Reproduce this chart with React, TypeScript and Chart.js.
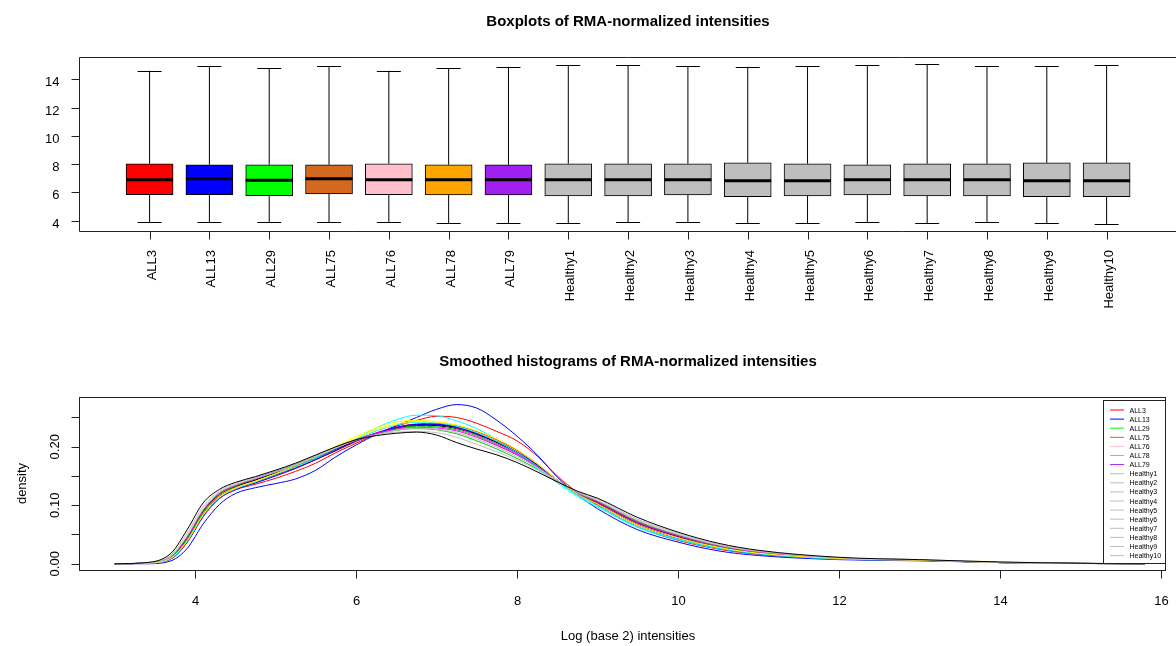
import React, { useEffect, useRef } from "react";
import { Chart, registerables } from "chart.js";
Chart.register(...registerables);

const FONT = '"Liberation Sans", Arial, sans-serif';

// ---------- Boxplot data ----------
const sampleNames = ["ALL3", "ALL13", "ALL29", "ALL75", "ALL76", "ALL78", "ALL79", "Healthy1", "Healthy2", "Healthy3", "Healthy4", "Healthy5", "Healthy6", "Healthy7", "Healthy8", "Healthy9", "Healthy10"];
const boxFill = ["#FF0000", "#0000FF", "#00FF00", "#D2691E", "#FFC0CB", "#FFA500", "#A020F0", "#BEBEBE", "#BEBEBE", "#BEBEBE", "#BEBEBE", "#BEBEBE", "#BEBEBE", "#BEBEBE", "#BEBEBE", "#BEBEBE", "#BEBEBE"];
const whiskerLow = [3.89, 3.89, 3.89, 3.89, 3.89, 3.82, 3.82, 3.82, 3.89, 3.89, 3.82, 3.82, 3.89, 3.82, 3.89, 3.82, 3.75];
const q1 = [5.84, 5.84, 5.77, 5.89, 5.84, 5.82, 5.82, 5.75, 5.75, 5.82, 5.70, 5.75, 5.82, 5.75, 5.75, 5.70, 5.70];
const medians = [6.90, 6.97, 6.86, 6.97, 6.90, 6.90, 6.90, 6.90, 6.90, 6.90, 6.83, 6.83, 6.90, 6.90, 6.90, 6.83, 6.83];
const q3 = [8.03, 7.96, 7.96, 7.96, 8.03, 7.96, 7.96, 8.03, 8.03, 8.03, 8.10, 8.03, 7.96, 8.03, 8.03, 8.10, 8.10];
const whiskerHigh = [14.61, 14.94, 14.80, 14.94, 14.61, 14.80, 14.89, 14.99, 14.99, 14.94, 14.89, 14.94, 14.99, 15.06, 14.94, 14.94, 14.99];
const boxYTicks = [4, 6, 8, 10, 12, 14];

// ---------- Density data ----------
const densityX = [3.0, 3.4, 3.7, 3.9, 4.1, 4.3, 4.5, 4.75, 5.0, 5.25, 5.5, 5.75, 6.0, 6.25, 6.5, 6.75, 7.0, 7.25, 7.5, 7.75, 8.0, 8.25, 8.5, 8.75, 9.0, 9.5, 10.0, 10.5, 11.0, 12.0, 13.0, 14.0, 15.0, 15.8];
const dALL3 = [0, 0.001, 0.012, 0.044, 0.090, 0.119, 0.133, 0.144, 0.156, 0.168, 0.182, 0.197, 0.211, 0.223, 0.232, 0.237, 0.236, 0.231, 0.221, 0.207, 0.190, 0.169, 0.143, 0.121, 0.106, 0.071, 0.048, 0.031, 0.020, 0.009, 0.006, 0.002, 0.0005, 0];
const dALL13 = [0, 0.001, 0.008, 0.036, 0.080, 0.111, 0.126, 0.136, 0.146, 0.158, 0.172, 0.190, 0.206, 0.222, 0.235, 0.245, 0.252, 0.250, 0.240, 0.226, 0.210, 0.184, 0.150, 0.122, 0.100, 0.063, 0.040, 0.025, 0.016, 0.008, 0.006, 0.002, 0.0005, 0];
const dALL29 = [0, 0.001, 0.012, 0.045, 0.091, 0.120, 0.134, 0.146, 0.158, 0.170, 0.184, 0.199, 0.212, 0.222, 0.228, 0.231, 0.229, 0.222, 0.210, 0.196, 0.180, 0.162, 0.141, 0.122, 0.107, 0.073, 0.049, 0.031, 0.020, 0.009, 0.006, 0.002, 0.0005, 0];
const dALL75 = [0, 0, 0.005, 0.026, 0.068, 0.101, 0.120, 0.130, 0.137, 0.145, 0.160, 0.183, 0.203, 0.221, 0.236, 0.250, 0.264, 0.272, 0.266, 0.245, 0.218, 0.186, 0.148, 0.118, 0.094, 0.058, 0.037, 0.022, 0.014, 0.007, 0.005, 0.002, 0.0004, 0];
const dALL76 = [0, 0.001, 0.009, 0.038, 0.082, 0.112, 0.128, 0.139, 0.151, 0.164, 0.179, 0.196, 0.214, 0.232, 0.246, 0.254, 0.253, 0.244, 0.231, 0.212, 0.190, 0.163, 0.138, 0.115, 0.097, 0.062, 0.041, 0.026, 0.017, 0.008, 0.006, 0.002, 0.0005, 0];
const dALL78 = [0, 0.001, 0.010, 0.040, 0.086, 0.116, 0.131, 0.143, 0.155, 0.167, 0.181, 0.196, 0.211, 0.224, 0.233, 0.238, 0.238, 0.232, 0.220, 0.205, 0.188, 0.167, 0.142, 0.120, 0.104, 0.069, 0.046, 0.029, 0.019, 0.009, 0.006, 0.002, 0.0005, 0];
const dALL79 = [0, 0.001, 0.010, 0.040, 0.086, 0.116, 0.130, 0.142, 0.155, 0.169, 0.184, 0.201, 0.218, 0.232, 0.242, 0.245, 0.243, 0.237, 0.226, 0.211, 0.193, 0.170, 0.143, 0.119, 0.102, 0.066, 0.044, 0.028, 0.018, 0.009, 0.006, 0.002, 0.0005, 0];
const dHealthy1 = [0, 0.002, 0.015, 0.052, 0.098, 0.124, 0.137, 0.148, 0.159, 0.171, 0.185, 0.200, 0.213, 0.221, 0.225, 0.226, 0.224, 0.216, 0.204, 0.191, 0.177, 0.160, 0.141, 0.123, 0.110, 0.076, 0.052, 0.033, 0.022, 0.010, 0.007, 0.003, 0.0007, 0];
const dHealthy2 = [0, 0.001, 0.011, 0.043, 0.089, 0.118, 0.132, 0.143, 0.155, 0.167, 0.181, 0.196, 0.210, 0.222, 0.231, 0.236, 0.237, 0.233, 0.222, 0.208, 0.190, 0.168, 0.142, 0.120, 0.105, 0.070, 0.047, 0.030, 0.019, 0.009, 0.006, 0.002, 0.0005, 0];
const dHealthy3 = [0, 0.001, 0.010, 0.040, 0.085, 0.115, 0.129, 0.140, 0.152, 0.164, 0.178, 0.193, 0.209, 0.223, 0.233, 0.239, 0.240, 0.236, 0.226, 0.212, 0.194, 0.171, 0.143, 0.120, 0.103, 0.067, 0.044, 0.028, 0.018, 0.008, 0.006, 0.002, 0.0005, 0];
const dHealthy4 = [0, 0.001, 0.011, 0.042, 0.088, 0.118, 0.133, 0.145, 0.157, 0.169, 0.183, 0.198, 0.212, 0.223, 0.231, 0.235, 0.234, 0.229, 0.218, 0.203, 0.186, 0.166, 0.142, 0.121, 0.106, 0.071, 0.048, 0.030, 0.020, 0.009, 0.006, 0.002, 0.0005, 0];
const dHealthy5 = [0, 0.001, 0.009, 0.037, 0.082, 0.112, 0.127, 0.138, 0.150, 0.163, 0.178, 0.194, 0.210, 0.223, 0.233, 0.238, 0.238, 0.234, 0.223, 0.209, 0.191, 0.169, 0.142, 0.119, 0.102, 0.066, 0.043, 0.027, 0.017, 0.008, 0.006, 0.002, 0.0005, 0];
const dHealthy6 = [0, 0.001, 0.009, 0.038, 0.083, 0.113, 0.128, 0.140, 0.153, 0.166, 0.181, 0.197, 0.213, 0.227, 0.237, 0.242, 0.241, 0.235, 0.224, 0.209, 0.190, 0.167, 0.141, 0.117, 0.099, 0.063, 0.042, 0.027, 0.017, 0.008, 0.006, 0.002, 0.0005, 0];
const dHealthy7 = [0, 0.001, 0.012, 0.045, 0.091, 0.120, 0.134, 0.145, 0.157, 0.169, 0.183, 0.198, 0.212, 0.223, 0.230, 0.233, 0.232, 0.227, 0.216, 0.202, 0.186, 0.166, 0.142, 0.121, 0.106, 0.071, 0.048, 0.031, 0.020, 0.009, 0.006, 0.002, 0.0005, 0];
const dHealthy8 = [0, 0.001, 0.010, 0.039, 0.084, 0.114, 0.129, 0.141, 0.154, 0.168, 0.183, 0.199, 0.215, 0.229, 0.239, 0.243, 0.242, 0.237, 0.227, 0.213, 0.195, 0.171, 0.143, 0.119, 0.102, 0.066, 0.044, 0.028, 0.018, 0.009, 0.006, 0.002, 0.0005, 0];
const dHealthy9 = [0, 0.001, 0.013, 0.048, 0.094, 0.122, 0.135, 0.146, 0.157, 0.169, 0.183, 0.198, 0.211, 0.221, 0.228, 0.232, 0.230, 0.224, 0.213, 0.199, 0.183, 0.164, 0.142, 0.122, 0.108, 0.074, 0.050, 0.032, 0.021, 0.010, 0.007, 0.002, 0.0006, 0];
const dHealthy10 = [0, 0.002, 0.018, 0.058, 0.104, 0.127, 0.139, 0.149, 0.160, 0.172, 0.186, 0.200, 0.212, 0.219, 0.223, 0.225, 0.220, 0.207, 0.196, 0.186, 0.173, 0.157, 0.140, 0.124, 0.112, 0.079, 0.054, 0.035, 0.023, 0.011, 0.007, 0.003, 0.0008, 0];
const densitySeries = [dALL3, dALL13, dALL29, dALL75, dALL76, dALL78, dALL79, dHealthy1, dHealthy2, dHealthy3, dHealthy4, dHealthy5, dHealthy6, dHealthy7, dHealthy8, dHealthy9, dHealthy10];
const densityLineColors = ["#000000", "#FF0000", "#00CD00", "#0000FF", "#00FFFF", "#FF00FF", "#FFFF00", "#BEBEBE", "#000000", "#FF0000", "#00CD00", "#0000FF", "#00FFFF", "#FF00FF", "#FFFF00", "#BEBEBE", "#000000"];
const legendColors = boxFill;
const densityXTicks = [4, 6, 8, 10, 12, 14, 16];
const densityYTicks = [0, 0.05, 0.1, 0.15, 0.2, 0.25];
const densityYLabels = [[0, "0.00"], [0.1, "0.10"], [0.2, "0.20"]] as [number, string][];

const topTitle = "Boxplots of RMA-normalized intensities";
const bottomTitle = "Smoothed histograms of RMA-normalized intensities";
const bottomXTitle = "Log (base 2) intensities";
const bottomYTitle = "density";

const boxPlugin = {
  id: "boxDecor",
  afterDatasetsDraw(chart: any) {
    const ctx = chart.ctx;
    const xs = chart.scales.x;
    const ys = chart.scales.y;
    const a = chart.chartArea;
    ctx.save();
    ctx.strokeStyle = "#000";
    ctx.lineWidth = 1;
    const half = 23.5;
    const cap = 12;
    sampleNames.forEach((_, i) => {
      const x = xs.getPixelForValue(i + 1);
      ctx.beginPath();
      ctx.moveTo(x, ys.getPixelForValue(q3[i]));
      ctx.lineTo(x, ys.getPixelForValue(whiskerHigh[i]));
      ctx.moveTo(x, ys.getPixelForValue(q1[i]));
      ctx.lineTo(x, ys.getPixelForValue(whiskerLow[i]));
      const yh = Math.round(ys.getPixelForValue(whiskerHigh[i])) + 0.5;
      const yl = Math.round(ys.getPixelForValue(whiskerLow[i])) + 0.5;
      ctx.moveTo(x - cap, yh);
      ctx.lineTo(x + cap, yh);
      ctx.moveTo(x - cap, yl);
      ctx.lineTo(x + cap, yl);
      ctx.stroke();
      ctx.lineWidth = 3;
      ctx.beginPath();
      const ym = ys.getPixelForValue(medians[i]);
      ctx.moveTo(x - half, ym);
      ctx.lineTo(x + half, ym);
      ctx.stroke();
      ctx.lineWidth = 1;
    });
    // frame
    const L = Math.round(a.left) + 0.5;
    const T = Math.round(a.top) + 0.5;
    const B = Math.round(a.bottom) + 0.5;
    ctx.strokeStyle = "#222";
    ctx.beginPath();
    ctx.moveTo(chart.width + 2, T);
    ctx.lineTo(L, T);
    ctx.lineTo(L, B);
    ctx.lineTo(chart.width + 2, B);
    ctx.stroke();
    // y ticks
    ctx.fillStyle = "#000";
    ctx.font = `13px ${FONT}`;
    ctx.textAlign = "right";
    ctx.textBaseline = "alphabetic";
    boxYTicks.forEach((v) => {
      const y = Math.round(ys.getPixelForValue(v)) + 0.5;
      ctx.beginPath();
      ctx.moveTo(L - 8, y);
      ctx.lineTo(L, y);
      ctx.stroke();
      ctx.fillText(String(v), 59.5, y + 6.5);
    });
    // x ticks + rotated labels
    sampleNames.forEach((name, i) => {
      const x = Math.round(xs.getPixelForValue(i + 1)) + 0.5;
      ctx.beginPath();
      ctx.moveTo(x, B);
      ctx.lineTo(x, B + 8);
      ctx.stroke();
      ctx.save();
      ctx.translate(x + 5, 250);
      ctx.rotate(-Math.PI / 2);
      ctx.textAlign = "right";
      ctx.textBaseline = "alphabetic";
      ctx.fillText(name, 0, 0);
      ctx.restore();
    });
    // title
    ctx.font = `bold 15px ${FONT}`;
    ctx.textAlign = "center";
    ctx.fillText(topTitle, 628, 26);
    ctx.restore();
  },
};

const densityPlugin = {
  id: "densityDecor",
  afterDraw(chart: any) {
    const ctx = chart.ctx;
    const xs = chart.scales.x;
    const ys = chart.scales.y;
    const a = chart.chartArea;
    ctx.save();
    const L = Math.round(a.left) + 0.5;
    const T = Math.round(a.top) + 0.5;
    const R = Math.round(a.right) + 0.5;
    const B = Math.round(a.bottom) + 0.5;
    ctx.strokeStyle = "#222";
    ctx.lineWidth = 1;
    ctx.strokeRect(L, T, R - L, B - T);
    ctx.fillStyle = "#000";
    ctx.font = `13px ${FONT}`;
    // x ticks
    ctx.textAlign = "center";
    ctx.textBaseline = "alphabetic";
    densityXTicks.forEach((v) => {
      const x = Math.round(xs.getPixelForValue(v)) + 0.5;
      ctx.beginPath();
      ctx.moveTo(x, B);
      ctx.lineTo(x, B + 8);
      ctx.stroke();
      ctx.fillText(String(v), x, 282);
    });
    // y ticks
    densityYTicks.forEach((v) => {
      const y = Math.round(ys.getPixelForValue(v)) + 0.5;
      ctx.beginPath();
      ctx.moveTo(L - 8, y);
      ctx.lineTo(L, y);
      ctx.stroke();
    });
    densityYLabels.forEach(([v, s]) => {
      const y = ys.getPixelForValue(v);
      ctx.save();
      ctx.translate(58.5, y);
      ctx.rotate(-Math.PI / 2);
      ctx.textAlign = "center";
      ctx.fillText(s, 0, 0);
      ctx.restore();
    });
    // axis titles
    ctx.fillText(bottomXTitle, 628, 317);
    ctx.save();
    ctx.translate(26, (a.top + a.bottom) / 2);
    ctx.rotate(-Math.PI / 2);
    ctx.textAlign = "center";
    ctx.fillText(bottomYTitle, 0, 0);
    ctx.restore();
    // title
    ctx.font = `bold 15px ${FONT}`;
    ctx.textAlign = "center";
    ctx.fillText(bottomTitle, 628, 43);
    // legend
    const lx = 1103.5, ly = 77.5, lw = 62, lh = 163;
    ctx.fillStyle = "#fff";
    ctx.fillRect(lx, ly, lw, lh);
    ctx.strokeStyle = "#222";
    ctx.strokeRect(lx, ly, lw, lh);
    ctx.font = `7px ${FONT}`;
    ctx.textAlign = "left";
    sampleNames.forEach((name, i) => {
      const y = 87 + i * 9.1;
      ctx.strokeStyle = legendColors[i];
      ctx.beginPath();
      ctx.moveTo(1110, y);
      ctx.lineTo(1124, y);
      ctx.stroke();
      ctx.fillStyle = "#000";
      ctx.fillText(name, 1129.5, y + 2.5);
    });
    ctx.restore();
  },
};

export default function App() {
  const topRef = useRef<HTMLCanvasElement>(null);
  const botRef = useRef<HTMLCanvasElement>(null);

  useEffect(() => {
    const top = new Chart(topRef.current as HTMLCanvasElement, {
      type: "bar",
      data: {
        datasets: [
          {
            data: sampleNames.map((_, i) => ({ x: i + 1, y: [q1[i], q3[i]] })) as any,
            backgroundColor: boxFill,
            borderColor: "#000",
            borderWidth: 1,
            borderSkipped: false,
            barThickness: 47,
          } as any,
        ],
      },
      options: {
        animation: false,
        responsive: false,
        maintainAspectRatio: false,
        layout: { padding: { left: 79, top: 57, right: 0, bottom: 92 } },
        scales: {
          x: { type: "linear", min: -0.18, max: 18.16, offset: false, display: false },
          y: { type: "linear", min: 3.27, max: 15.58, display: false },
        },
        plugins: { legend: { display: false }, tooltip: { enabled: false } },
      },
      plugins: [boxPlugin],
    });

    const bot = new Chart(botRef.current as HTMLCanvasElement, {
      type: "line",
      data: {
        datasets: densitySeries.map((s, k) => ({
          label: sampleNames[k],
          data: densityX.map((x, j) => ({ x, y: s[j] })),
          borderColor: densityLineColors[k],
          borderWidth: 1,
          pointRadius: 0,
          fill: false,
          cubicInterpolationMode: "monotone" as const,
          order: 17 - k,
        })),
      },
      options: {
        animation: false,
        responsive: false,
        maintainAspectRatio: false,
        layout: { padding: { left: 79, top: 74, right: 11, bottom: 76 } },
        scales: {
          x: { type: "linear", min: 2.557, max: 16.05, display: false },
          y: { type: "linear", min: -0.0107, max: 0.285, display: false },
        },
        plugins: { legend: { display: false }, tooltip: { enabled: false } },
      },
      plugins: [densityPlugin],
    });

    return () => {
      top.destroy();
      bot.destroy();
    };
  }, []);

  return (
    <div style={{ position: "absolute", left: 0, top: 0, width: 1176, height: 646, background: "#fff" }}>
      <canvas ref={topRef} width={1176} height={323} style={{ position: "absolute", left: 0, top: 0, width: 1176, height: 323 }} />
      <canvas ref={botRef} width={1176} height={323} style={{ position: "absolute", left: 0, top: 323, width: 1176, height: 323 }} />
    </div>
  );
}
